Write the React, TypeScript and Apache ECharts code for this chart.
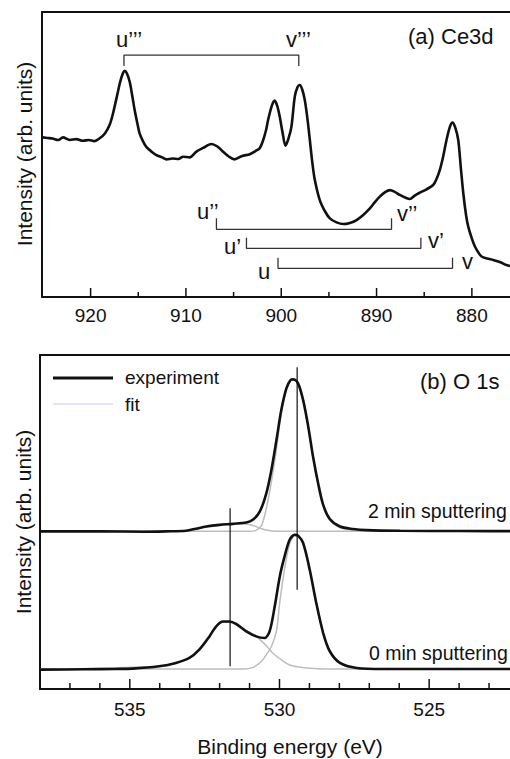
import React, { useEffect, useRef } from "react";
import * as echarts from "echarts";

// ---------- Panel (a) Ce3d ----------
const ceEnergy = [
  925.0, 924.5, 924.0, 923.4, 922.9, 922.2, 921.5, 920.8, 920.2, 919.6, 919.05, 918.5, 918.0,
  917.65, 917.2, 916.9, 916.6, 916.43, 916.2, 915.9, 915.6, 915.38, 915.1, 914.86, 914.5,
  914.16, 913.6, 913.1, 912.5, 912.05, 911.4, 910.8, 910.3, 909.6, 908.9, 908.2, 907.33,
  906.7, 906.1, 905.5, 904.9, 904.1, 903.3, 902.7, 902.26, 901.9, 901.6, 901.38, 901.0,
  900.68, 900.4, 900.16, 899.85, 899.56, 899.25, 898.93, 898.58, 898.3, 898.06, 897.8,
  897.53, 897.25, 897.0, 896.75, 896.48, 895.96, 895.4, 894.9, 894.2, 893.5, 892.8, 892.1,
  891.4, 890.7, 890.2, 889.66, 889.1, 888.6, 888.1, 887.56, 887.0, 886.5, 886.0, 885.46,
  884.8, 884.06, 883.7, 883.36, 883.0, 882.66, 882.3, 882.03, 881.75, 881.43, 881.15,
  880.9, 880.6, 880.38, 880.0, 879.68, 879.3, 878.98, 878.4, 877.76, 877.0, 876.36, 875.5,
];
const ceIntensity = [
  56.0, 55.8, 55.6, 55.1, 56.0, 55.1, 55.4, 54.8, 55.1, 54.7, 55.7, 57.4, 60.4,
  64.4, 71.0, 75.5, 78.6, 79.4, 78.5, 75.5, 70.0, 65.6, 61.0, 57.4, 54.6,
  52.7, 51.0, 49.8, 49.0, 48.3, 48.6, 48.4, 49.2, 49.0, 51.0, 52.3, 53.7,
  52.8, 51.0, 49.3, 48.3, 49.5, 50.1, 51.2, 52.2, 55.0, 58.5, 62.1, 67.0,
  68.9, 66.8, 63.3, 57.5, 53.1, 55.5, 59.8, 70.3, 73.6, 74.4, 72.8,
  69.1, 62.5, 55.1, 47.5, 41.1, 34.0, 30.0, 27.6, 26.2, 25.6, 26.0, 27.0,
  28.8, 31.1, 33.2, 35.2, 36.8, 37.5, 36.9, 35.8, 34.9, 34.4, 35.6, 36.6,
  37.7, 39.3, 41.5, 44.6, 49.5, 55.1, 59.8, 61.2, 59.5, 55.1, 45.0,
  36.4, 28.5, 24.7, 20.5, 17.7, 15.5, 14.2, 13.5, 13.0, 12.2, 11.2, 10.5,
];

// u / v doublet brackets (binding energy of u and v components, bar and end heights)
const bracketNames = [["u’’’", "v’’’"], ["u’’", "v’’"], ["u’", "v’"], ["u", "v"]];
const bracketU = [916.5, 906.8, 903.65, 900.34];
const bracketV = [898.16, 888.43, 885.35, 882.03];
const bracketBar = [84.9, 23.75, 17.09, 10.07];
const bracketEnd = [81.05, 27.6, 20.8, 13.79];

const ceRange = [876.0, 925.1];
const ceTicks = [880, 890, 900, 910, 920];
const ceMinorTicks = [885, 895, 905, 915];

// ---------- Panel (b) O 1s ----------
const o2Energy = [
  538.0, 536.0, 534.5, 533.8, 533.12, 532.79, 532.45, 532.0, 531.56, 531.11, 530.89, 530.66,
  530.44, 530.27, 530.1, 529.94, 529.77, 529.63, 529.53, 529.38, 529.21, 529.04, 528.88,
  528.71, 528.54, 528.32, 527.98, 527.54, 527.09, 525.97, 524.0, 522.0, 520.0,
];
const o2Exp = [
  47.2, 47.2, 47.1, 47.2, 47.4, 48.0, 48.65, 49.15, 49.45, 49.85, 50.65, 53.1,
  58.6, 65.6, 74.6, 83.5, 90.0, 92.5, 92.7, 91.5, 86.5, 78.6, 69.6,
  61.6, 55.1, 50.9, 48.65, 47.9, 47.56, 47.36, 47.3, 47.25, 47.2,
];
const o2FitHighE = [538.0, 533.5, 533.0, 532.5, 532.0, 531.6, 531.2, 530.9, 530.6, 530.3, 530.0, 529.0, 520.0];
const o2FitHighI = [47.2, 47.2, 47.5, 48.4, 49.1, 49.4, 49.4, 49.0, 48.0, 47.4, 47.2, 47.2, 47.2];
const o2FitLowE = [
  538.0, 531.0, 530.8, 530.6, 530.44, 530.27, 530.1, 529.94, 529.77, 529.63, 529.53, 529.38,
  529.21, 529.04, 528.88, 528.71, 528.54, 528.32, 527.98, 527.54, 527.0, 520.0,
];
const o2FitLowI = [
  47.2, 47.2, 47.4, 49.0, 54.0, 62.0, 72.0, 82.5, 89.5, 92.3, 92.6, 91.4,
  86.4, 78.5, 69.5, 61.5, 55.0, 50.6, 48.3, 47.5, 47.2, 47.2,
];

const o0Energy = [
  538.0, 536.5, 535.5, 534.91, 534.02, 533.46, 533.01, 532.68, 532.34, 532.12, 531.89, 531.67,
  531.45, 531.11, 530.78, 530.5, 530.33, 530.16, 529.99, 529.83, 529.66, 529.49, 529.38,
  529.21, 528.99, 528.77, 528.54, 528.32, 527.98, 527.42, 526.53, 524.0, 520.0,
];
const o0Exp = [
  5.8, 5.9, 6.0, 6.1, 6.8, 7.8, 9.3, 11.8, 15.75, 18.7, 20.2, 20.2,
  19.5, 17.25, 15.75, 15.25, 17.25, 24.7, 33.7, 39.7, 44.7, 46.2, 45.9,
  43.7, 35.7, 25.7, 16.75, 11.3, 7.8, 6.3, 6.0, 6.0, 6.0,
];
const o0FitHighE = [
  538.0, 534.02, 533.46, 533.01, 532.68, 532.34, 532.12, 531.89, 531.67, 531.45, 531.11,
  530.73, 530.4, 530.22, 529.9, 529.66, 529.3, 528.99, 528.5, 520.0,
];
const o0FitHighI = [
  5.8, 6.8, 7.8, 9.3, 11.8, 15.7, 18.6, 20.0, 20.0, 19.2, 17.5,
  15.4, 12.6, 10.7, 8.5, 7.2, 6.5, 6.2, 6.0, 6.0,
];
const o0FitLowE = [
  538.0, 531.2, 530.9, 530.6, 530.4, 530.27, 530.1, 529.99, 529.83, 529.66, 529.49, 529.38,
  529.21, 528.99, 528.77, 528.54, 528.32, 527.98, 527.42, 526.5, 520.0,
];
const o0FitLowI = [
  6.0, 6.0, 6.4, 8.3, 10.8, 12.7, 17.5, 26.0, 36.0, 43.5, 45.8, 45.7,
  43.5, 35.6, 25.6, 16.6, 11.2, 7.7, 6.2, 6.0, 6.0,
];

// peak position markers: energy, lower and upper intensity
const markerEnergy = [529.41, 531.65];
const markerLow = [29.7, 6.78];
const markerHigh = [96.3, 54.1];

const oRange = [522.3, 538.0];
const oTicks = [525, 530, 535];
const oMinorTicks = [523, 524, 526, 527, 528, 529, 531, 532, 533, 534, 536, 537];

const FONT = "'Liberation Sans', Arial, Helvetica, sans-serif";
const INK = "#111";

const zip = (xs: number[], ys: number[]) => xs.map((x, i) => [x, ys[i]]);

export default function App() {
  const ref = useRef<HTMLDivElement>(null);
  useEffect(() => {
    if (!ref.current) return;
    const chart = echarts.init(ref.current, null, { renderer: "svg" });

    const curve = (name: string, data: number[][], grid: number, color: string, width: number, z: number) => ({
      name,
      type: "line",
      xAxisIndex: grid,
      yAxisIndex: grid,
      data,
      symbol: "none",
      smooth: 0.3,
      lineStyle: { color, width },
      z,
      silent: true,
    });

    // axis ticks and labels drawn through the axis scale (custom series)
    const tickSeries = (grid: number, values: number[], len: number, labelled: boolean, labelDy: number) => ({
      name: "ticks" + grid + (labelled ? "major" : "minor"),
      type: "custom",
      xAxisIndex: grid,
      yAxisIndex: grid,
      clip: false,
      silent: true,
      z: 10,
      data: values.map((v) => [v, 0]),
      renderItem: (params: any, api: any) => {
        const v = api.value(0);
        const p = api.coord([v, 0]);
        const children: any[] = [
          {
            type: "line",
            shape: { x1: p[0], y1: p[1], x2: p[0], y2: p[1] - len },
            style: { stroke: INK, lineWidth: 1.5 },
          },
        ];
        if (labelled) {
          children.push({
            type: "text",
            x: p[0],
            y: p[1] + labelDy,
            style: {
              text: String(v),
              fontSize: 19,
              fontFamily: FONT,
              fill: INK,
              align: "center",
              verticalAlign: "middle",
            },
          });
        }
        return { type: "group", children };
      },
    });

    const series: any[] = [];
    series.push(curve("Ce3d", zip(ceEnergy, ceIntensity), 0, INK, 2.6, 5));
    bracketU.forEach((u, i) => {
      series.push({
        name: bracketNames[i].join("-"),
        type: "line",
        xAxisIndex: 0,
        yAxisIndex: 0,
        symbol: "none",
        data: [
          [u, bracketEnd[i]],
          [u, bracketBar[i]],
          [bracketV[i], bracketBar[i]],
          [bracketV[i], bracketEnd[i]],
        ],
        lineStyle: { color: "#333", width: 1.3 },
        z: 4,
        silent: true,
      });
    });
    series.push(curve("fit 2 min high", zip(o2FitHighE, o2FitHighI), 1, "#bdbdbd", 1.5, 2));
    series.push(curve("fit 2 min low", zip(o2FitLowE, o2FitLowI), 1, "#bdbdbd", 1.5, 2));
    series.push(curve("fit 0 min high", zip(o0FitHighE, o0FitHighI), 1, "#bdbdbd", 1.5, 2));
    series.push(curve("fit 0 min low", zip(o0FitLowE, o0FitLowI), 1, "#bdbdbd", 1.5, 2));
    series.push(curve("experiment 2 min", zip(o2Energy, o2Exp), 1, INK, 2.6, 5));
    series.push(curve("experiment 0 min", zip(o0Energy, o0Exp), 1, INK, 2.6, 5));
    markerEnergy.forEach((e, i) => {
      series.push({
        name: "marker" + i,
        type: "line",
        xAxisIndex: 1,
        yAxisIndex: 1,
        symbol: "none",
        data: [
          [e, markerLow[i]],
          [e, markerHigh[i]],
        ],
        lineStyle: { color: INK, width: 1.2 },
        z: 6,
        silent: true,
      });
    });
    series.push(tickSeries(0, ceTicks, 9, true, 18));
    series.push(tickSeries(0, ceMinorTicks, 5, false, 0));
    series.push(tickSeries(1, oTicks, 10, true, 20));
    series.push(tickSeries(1, oMinorTicks, 6, false, 0));

    const xMain = (range: number[], grid: number) => ({
      type: "value",
      gridIndex: grid,
      min: range[0],
      max: range[1],
      inverse: true,
      axisLine: { show: true, lineStyle: { color: INK, width: 2 } },
      axisTick: { show: false },
      axisLabel: { show: false },
      splitLine: { show: false },
    });
    const xTop = (range: number[], grid: number) => ({
      ...xMain(range, grid),
      position: "top",
    });
    const yAx = (grid: number) => ({
      type: "value",
      gridIndex: grid,
      min: 0,
      max: 100,
      axisLine: { show: true, lineStyle: { color: INK, width: 2 } },
      axisTick: { show: false },
      axisLabel: { show: false },
      splitLine: { show: false },
    });

    const txt = (text: string, x: number, y: number, size: number, extra: any = {}) => ({
      type: "text",
      x,
      y,
      silent: true,
      ...extra,
      style: {
        text,
        fontSize: size,
        fontFamily: FONT,
        fill: INK,
        align: extra.align || "left",
        verticalAlign: "middle",
      },
    });

    chart.setOption({
      animation: false,
      backgroundColor: "#fff",
      grid: [
        { left: 42, top: 12, right: 0, height: 285, outerBoundsMode: "none" },
        { left: 40, top: 355, right: 0, height: 334, outerBoundsMode: "none" },
      ],
      xAxis: [xMain(ceRange, 0), xMain(oRange, 1), xTop(ceRange, 0), xTop(oRange, 1)],
      yAxis: [yAx(0), yAx(1)],
      series,
      graphic: [
        txt("Intensity (arb. units)", 24, 154, 21, { rotation: Math.PI / 2, align: "center" }),
        txt("Intensity (arb. units)", 23, 522, 21, { rotation: Math.PI / 2, align: "center" }),
        txt("Binding energy (eV)", 290, 746, 21, { align: "center" }),
        txt("(a) Ce3d", 408, 36, 22),
        txt("(b) O 1s", 420, 381, 22),
        txt("u’’’", 116, 39, 22),
        txt("v’’’", 286, 39, 22),
        txt("u’’", 197, 211, 22),
        txt("v’’", 397, 213, 22),
        txt("u’", 224, 246, 22),
        txt("v’", 428, 240, 22),
        txt("u", 258, 271, 22),
        txt("v", 462, 261, 22),
        txt("2 min sputtering", 368, 511, 19.5),
        txt("0 min sputtering", 369, 653, 19.5),
        {
          type: "line",
          silent: true,
          shape: { x1: 53, y1: 378, x2: 113, y2: 378 },
          style: { stroke: INK, lineWidth: 3 },
        },
        {
          type: "line",
          silent: true,
          shape: { x1: 53, y1: 404, x2: 113, y2: 404 },
          style: { stroke: "#c9c9f2", lineWidth: 1.2 },
        },
        txt("experiment", 125, 377, 19),
        txt("fit", 125, 404, 19),
      ],
    });
    return () => chart.dispose();
  }, []);
  return (
    <div
      ref={ref}
      style={{ position: "absolute", left: 0, top: 0, width: 510, height: 759 }}
    />
  );
}
